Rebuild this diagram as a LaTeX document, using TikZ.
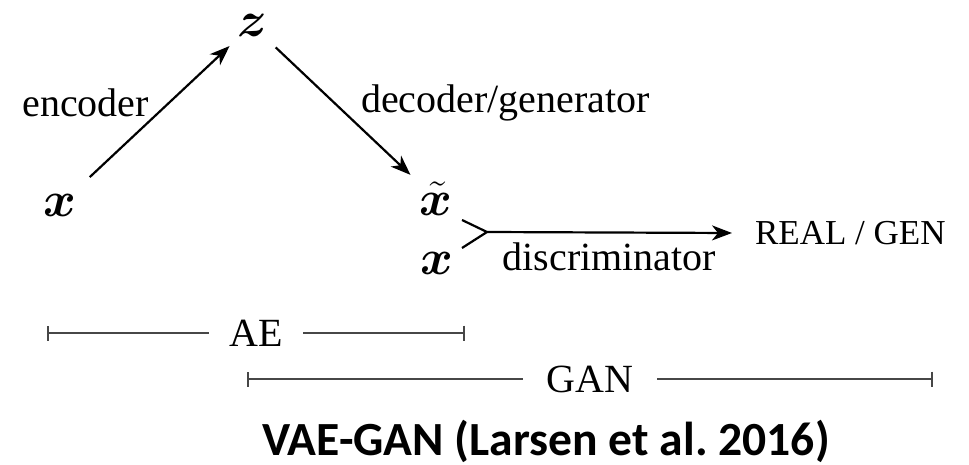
\documentclass[tikz,border=0pt]{standalone}
\usepackage{fontspec}
\usepackage{bm}
\setmainfont{Liberation Serif}
\newfontfamily\titlefont{Carlito}
\usetikzlibrary{arrows.meta, positioning, calc}
\definecolor{BarGray}{rgb}{0.28, 0.28, 0.28}

\begin{document}
\begin{tikzpicture}[x=0.5pt, y=-0.5pt, font=\fontsize{20}{24}\selectfont,
    vec/.style={font=\fontsize{24}{28}\selectfont, inner sep=0pt},
    flecha/.style={line width=1.1pt, -{Stealth[length=10pt, width=7.5pt, inset=3pt]}},
    barra/.style={BarGray, line width=0.8pt, {Bar[width=7.5pt]}-{Bar[width=7.5pt]}}]
\useasboundingbox (0,0) rectangle (969,465);

% nodos
\node[vec] (x1) at (60,205) {$\bm{x}$};
\node[vec] (z) at (252,25) {$\bm{z}$};
\node[vec] (xt) at (436,199) {$\tilde{\bm{x}}$};
\node[vec] (x2) at (437,263) {$\bm{x}$};
\node (out) [anchor=west] at (748,233) {\fontsize{17.5}{20}\selectfont REAL / GEN};

% flechas
\draw[flecha, shorten <=12pt, shorten >=7pt] (x1) -- (z);
\node (enc) [anchor=east] at (156,103) {encoder};
\draw[flecha, shorten <=8pt, shorten >=6pt] (z) -- (xt);
\node (dec) [anchor=west] at (354,103) {decoder/generator};

% discriminador
\coordinate (ma) at (462,220);
\coordinate (mb) at (462,248);
\coordinate (m) at (487,232);
\draw[line width=1.1pt] (ma) -- (m) -- (mb);
\draw[flecha] (m) -- (out.west -| 732,0)
    node[midway, below=1pt] (disc) {discriminator};

% barras
\coordinate (ae1) at (47,333);
\coordinate (ae2) at (465,333);
\draw[barra] (ae1) -- (ae2) node[midway, fill=white, text=black, inner xsep=10pt] (ae) {AE};
\coordinate (gan1) at (247,379);
\coordinate (gan2) at (933,379);
\draw[barra] (gan1) -- (gan2) node[midway, fill=white, text=black, inner xsep=12pt] (gan) {GAN};

% titulo
\node (titulo) [anchor=base] at (546,455) {\titlefont\bfseries\fontsize{23.8}{28}\selectfont VAE-GAN (Larsen et al.\ 2016)};

\end{tikzpicture}
\end{document}
